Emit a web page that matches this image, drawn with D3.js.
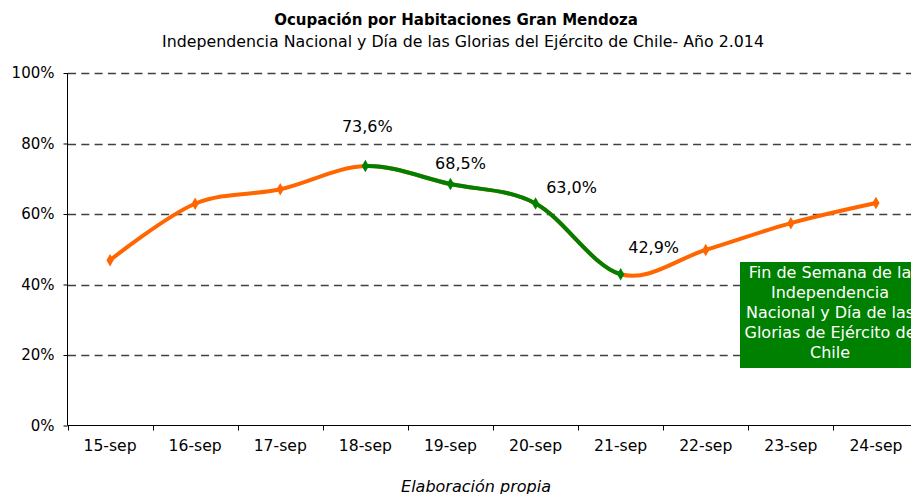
<!DOCTYPE html>
<html>
<head>
<meta charset="utf-8">
<script src="https://cdn.jsdelivr.net/npm/d3@7"></script>
<style>
	body { margin: 0; background: #fff; }
	svg { display: block; font-family: "DejaVu Sans", Verdana, sans-serif; }
</style>
</head>
<body>
<div id="graph"></div>
<script>
const days = ["15-sep", "16-sep", "17-sep", "18-sep", "19-sep", "20-sep", "21-sep", "22-sep", "23-sep", "24-sep"];
const occupancy = [46.9, 62.9, 67.0, 73.6, 68.5, 63.0, 42.9, 49.8, 57.4, 63.1];
const yTicks = [0, 20, 40, 60, 80, 100];
// days of the long weekend (green), and which points carry a label
const holidayDays = ["18-sep", "19-sep", "20-sep", "21-sep"];
const labelledDays = ["18-sep", "19-sep", "20-sep", "21-sep"];
const boxLines = ["Fin de Semana de la", "Independencia", "Nacional y Día de las", "Glorias de Ejército de", "Chile"];

const orange = "#ff6600", green = "#008000";

const [width, height] = [911, 494];
const svg = d3.select("#graph").append("svg").attr("width", width).attr("height", height);

const x = d3.scaleBand().domain(days).range([67.5, 918.5]);
const y = d3.scaleLinear().domain([0, 100]).range([425.5, 73]);
const cx = (d) => x(d) + x.bandwidth() / 2;

// titles
svg.append("text").attr("x", 456).attr("y", 25).attr("text-anchor", "middle")
	.attr("font-size", 15).attr("font-weight", "bold").text("Ocupación por Habitaciones Gran Mendoza");
svg.append("text").attr("x", 463).attr("y", 47).attr("text-anchor", "middle")
	.attr("font-size", 15.8).text("Independencia Nacional y Día de las Glorias del Ejército de Chile- Año 2.014");

// grid
svg.append("g").selectAll("line").data(yTicks.filter(t => t > 0)).enter().append("line")
	.attr("x1", 68).attr("x2", 918)
	.attr("y1", d => Math.round(y(d)) + 0.5).attr("y2", d => Math.round(y(d)) + 0.5)
	.attr("stroke", "#404040").attr("stroke-width", 1.5).attr("stroke-dasharray", "8,5.3");

// y axis
const yAxis = d3.axisLeft(y).tickValues(yTicks).tickFormat(d => d + "%").tickSize(4).tickPadding(9);
const yg = svg.append("g").attr("transform", "translate(67.5, 0)").call(yAxis);
yg.select(".domain").attr("stroke", "#000").attr("d", `M0,${y(0)}V${y(100)}`);
yg.selectAll("text").attr("font-size", 15).attr("font-family", "DejaVu Sans, Verdana, sans-serif").attr("fill", "#000");

// x axis: ticks between categories
const xg = svg.append("g").attr("transform", `translate(0, ${y(0)})`);
xg.append("line").attr("x1", 67.5).attr("x2", 918.5).attr("stroke", "#000");
xg.selectAll("line.tick").data(days).enter().append("line").attr("class", "tick")
	.attr("x1", d => Math.round(x(d)) + 0.5).attr("x2", d => Math.round(x(d)) + 0.5)
	.attr("y1", 0).attr("y2", 5).attr("stroke", "#000");
xg.selectAll("text").data(days).enter().append("text")
	.attr("x", d => cx(d)).attr("y", 25).attr("text-anchor", "middle")
	.attr("font-size", 15.6).text(d => d);

// smoothed line, green part clipped to the long weekend
const line = d3.line().x((d, i) => cx(days[i])).y(d => y(d)).curve(d3.curveCardinal.tension(0));
const defs = svg.append("defs");
defs.append("clipPath").attr("id", "holiday").append("rect")
	.attr("x", cx(holidayDays[0])).attr("width", cx(holidayDays[holidayDays.length - 1]) - cx(holidayDays[0]))
	.attr("y", 0).attr("height", height);

svg.append("path").attr("d", line(occupancy)).attr("fill", "none").attr("stroke", orange).attr("stroke-width", 4).attr("stroke-linejoin", "round");
svg.append("path").attr("d", line(occupancy)).attr("fill", "none").attr("stroke", green).attr("stroke-width", 4)
	.attr("stroke-linejoin", "round").attr("clip-path", "url(#holiday)");

const diamond = d3.symbol().type(d3.symbolDiamond).size(45);
svg.append("g").selectAll("path").data(days).enter().append("path")
	.attr("d", diamond)
	.attr("transform", (d, i) => `translate(${cx(d)}, ${y(occupancy[i])})`)
	.attr("fill", d => holidayDays.includes(d) ? green : orange);

// data labels
const labelOffset = { "18-sep": [2, -34], "19-sep": [10, -15], "20-sep": [36, -10], "21-sep": [33, -21] };
svg.append("g").selectAll("text").data(labelledDays).enter().append("text")
	.attr("x", d => cx(d) + labelOffset[d][0])
	.attr("y", d => y(occupancy[days.indexOf(d)]) + labelOffset[d][1])
	.attr("text-anchor", "middle").attr("font-size", 16)
	.text(d => occupancy[days.indexOf(d)].toFixed(1).replace(".", ",") + "%");

// annotation box
svg.append("rect").attr("x", 740).attr("y", 262).attr("width", 180).attr("height", 106).attr("fill", green);
svg.append("g").selectAll("text").data(boxLines).enter().append("text")
	.attr("x", 830).attr("y", (d, i) => 278 + i * 20)
	.attr("text-anchor", "middle").attr("font-size", 16).attr("fill", "#fff").text(d => d);

svg.append("text").attr("x", 476).attr("y", 492).attr("text-anchor", "middle")
	.attr("font-size", 16).attr("font-style", "italic").text("Elaboración propia");
</script>
</body>
</html>
